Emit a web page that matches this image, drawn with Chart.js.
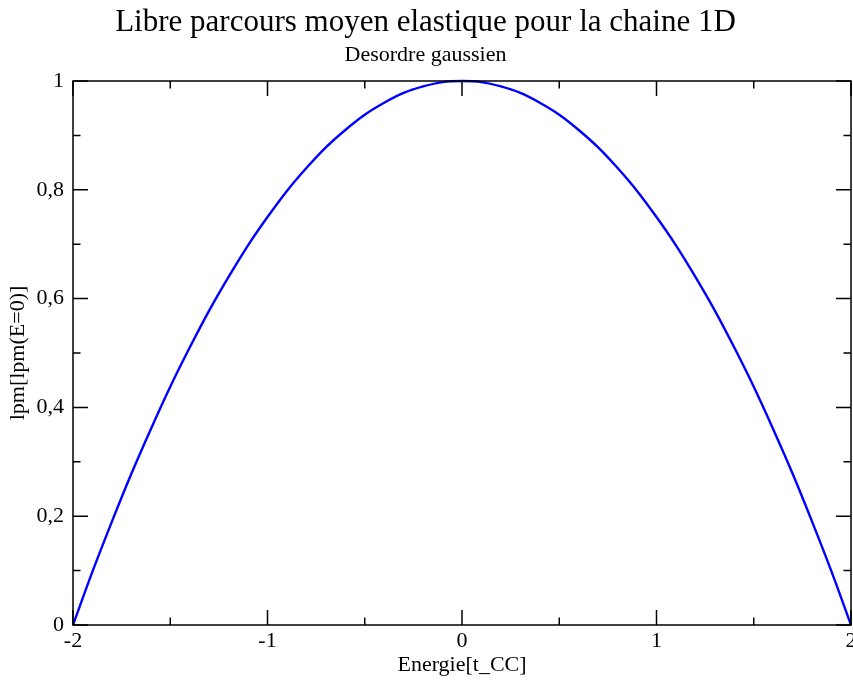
<!DOCTYPE html>
<html>
<head>
<meta charset="utf-8">
<script src="https://cdn.jsdelivr.net/npm/chart.js@4"></script>
<style>
  html, body { margin: 0; padding: 0; background: #fff; }
  #wrap { width: 853px; height: 680px; }
</style>
</head>
<body>
<div id="wrap"><canvas id="lpmChart"></canvas></div>
<script>
// Energy (units of t_CC) and normalised mean free path lpm/lpm(E=0)
var energies = [-2.0, -1.9, -1.8, -1.7, -1.6, -1.5, -1.4, -1.3, -1.2, -1.1, -1.0,
                -0.9, -0.8, -0.7, -0.6, -0.5, -0.4, -0.3, -0.2, -0.1, 0.0,
                0.1, 0.2, 0.3, 0.4, 0.5, 0.6, 0.7, 0.8, 0.9, 1.0,
                1.1, 1.2, 1.3, 1.4, 1.5, 1.6, 1.7, 1.8, 1.9, 2.0];
var lpm = [0.000, 0.098, 0.190, 0.278, 0.360, 0.438, 0.510, 0.578, 0.640, 0.698, 0.750,
           0.798, 0.840, 0.878, 0.910, 0.938, 0.960, 0.978, 0.990, 0.998, 1.000,
           0.998, 0.990, 0.978, 0.960, 0.938, 0.910, 0.878, 0.840, 0.798, 0.750,
           0.698, 0.640, 0.578, 0.510, 0.438, 0.360, 0.278, 0.190, 0.098, 0.000];

var xMajor = [-2, -1, 0, 1, 2];
var xMinor = [-1.5, -0.5, 0.5, 1.5];
var yMajor = [0, 0.2, 0.4, 0.6, 0.8, 1];
var yMinor = [0.1, 0.3, 0.5, 0.7, 0.9];

var serif = '"Liberation Serif", "Times New Roman", serif';

// frame around the plot with inward ticks on all four sides
var frameTicks = {
    id: 'frameTicks',
    afterDatasetsDraw: function(chart) {
        var ctx = chart.ctx, a = chart.chartArea;
        var xs = chart.scales.x, ys = chart.scales.y;
        var big = 15, small = 7.5;
        ctx.save();
        ctx.strokeStyle = '#000';
        ctx.lineWidth = 1.5;
        ctx.strokeRect(a.left, a.top, a.right - a.left, a.bottom - a.top);
        ctx.beginPath();
        function xTick(v, len) {
            var px = xs.getPixelForValue(v);
            ctx.moveTo(px, a.bottom); ctx.lineTo(px, a.bottom - len);
            ctx.moveTo(px, a.top); ctx.lineTo(px, a.top + len);
        }
        function yTick(v, len) {
            var py = ys.getPixelForValue(v);
            ctx.moveTo(a.left, py); ctx.lineTo(a.left + len, py);
            ctx.moveTo(a.right, py); ctx.lineTo(a.right - len, py);
        }
        xMajor.forEach(function(v) { xTick(v, big); });
        xMinor.forEach(function(v) { xTick(v, small); });
        yMajor.forEach(function(v) { yTick(v, big); });
        yMinor.forEach(function(v) { yTick(v, small); });
        ctx.stroke();
        ctx.restore();
    }
};

document.addEventListener('DOMContentLoaded', function() {
    var ctx = document.getElementById('lpmChart');
    new Chart(ctx, {
        type: 'line',
        data: {
            datasets: [{
                data: energies.map(function(e, i) { return { x: e, y: lpm[i] }; }),
                borderColor: '#0000ff',
                borderWidth: 2.4,
                pointRadius: 0,
                cubicInterpolationMode: 'monotone',
                fill: false,
                clip: false
            }]
        },
        options: {
            responsive: true,
            maintainAspectRatio: false,
            animation: false,
            layout: { padding: { left: 0, right: 2, top: 0, bottom: 0 } },
            plugins: {
                legend: { display: false },
                tooltip: { enabled: false },
                title: {
                    display: true,
                    text: 'Libre parcours moyen elastique pour la chaine 1D',
                    color: '#000',
                    font: { family: serif, size: 31, weight: 'normal', lineHeight: 1.2 },
                    padding: { top: 4.4, bottom: 0 }
                },
                subtitle: {
                    display: true,
                    text: 'Desordre gaussien',
                    color: '#000',
                    font: { family: serif, size: 22, weight: 'normal', lineHeight: 1.2 },
                    padding: { top: 0.7, bottom: 12.3 }
                }
            },
            scales: {
                x: {
                    type: 'linear',
                    min: -2, max: 2,
                    afterFit: function(s) { s.height = 55; s.paddingLeft = 0; s.paddingRight = 0; },
                    afterBuildTicks: function(s) { s.ticks = xMajor.map(function(v) { return { value: v }; }); },
                    grid: { display: false, drawTicks: false },
                    border: { display: false },
                    ticks: {
                        color: '#000',
                        padding: 3,
                        maxRotation: 0,
                        font: { family: serif, size: 22 },
                        callback: function(v) { return String(v); }
                    },
                    title: {
                        display: true,
                        text: 'Energie[t_CC]',
                        color: '#000',
                        font: { family: serif, size: 22, lineHeight: 1.2 },
                        padding: { top: 0, bottom: 2 }
                    }
                },
                y: {
                    type: 'linear',
                    min: 0, max: 1,
                    afterFit: function(s) { s.width = 73; s.paddingTop = 0; s.paddingBottom = 0; },
                    afterBuildTicks: function(s) { s.ticks = yMajor.map(function(v) { return { value: v }; }); },
                    grid: { display: false, drawTicks: false },
                    border: { display: false },
                    ticks: {
                        color: '#000',
                        padding: 9,
                        font: { family: serif, size: 22 },
                        callback: function(v) { return String(Math.round(v * 10) / 10).replace('.', ','); }
                    },
                    title: {
                        display: true,
                        text: 'lpm[lpm(E=0)]',
                        color: '#000',
                        font: { family: serif, size: 22, lineHeight: 1.2 },
                        padding: { top: 5, bottom: 0 }
                    }
                }
            }
        },
        plugins: [frameTicks]
    });
});
</script>
</body>
</html>
